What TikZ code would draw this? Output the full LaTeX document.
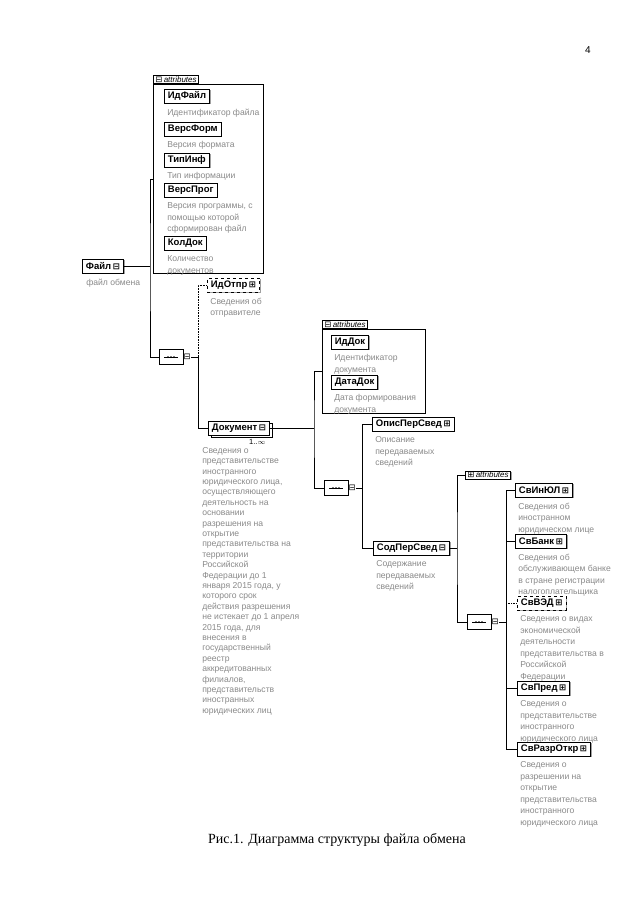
\documentclass[tikz,border=0pt]{standalone}
\usepackage{fontspec}
\setmainfont{Liberation Serif}
\setsansfont{Liberation Sans}
\newfontfamily\symf{DejaVu Sans}
\usepackage{tikz}
\usetikzlibrary{positioning,shapes.misc,shadows}
\definecolor{desccol}{HTML}{8A8A8A}
\definecolor{shadcol}{HTML}{A0A0A0}
\newcommand{\mkplus}{{\upshape\symf\fontsize{8.5}{8.5}\selectfont ⊞}}
\newcommand{\mkminus}{{\upshape\symf\fontsize{8.5}{8.5}\selectfont ⊟}}
\newcommand{\seqdots}[1]{%
  \draw ([xshift=-7pt]#1.center) -- ([xshift=7pt]#1.center);
  \foreach \dx in {-3,0,3} \fill ([xshift=\dx pt]#1.center) circle (1pt);}

\begin{document}
\begin{tikzpicture}[x=1pt,y=-1pt,line width=0.6pt,
  elbase/.style={draw,line width=0.8pt,fill=white,anchor=west,
                 font=\sffamily\bfseries\fontsize{9.5}{11}\selectfont,
                 minimum height=14pt,inner xsep=3.5pt,inner ysep=1pt},
  elem/.style={elbase,drop shadow={shadow xshift=1.2pt,shadow yshift=-1.2pt,
               fill=shadcol,opacity=1}},
  optel/.style={elem,dashed},
  multel/.style={elbase,copy shadow={shadow xshift=2.5pt,shadow yshift=-2.5pt}},
  desc/.style={font=\sffamily\fontsize{8.6}{11.5}\selectfont,text=desccol,
               align=left,inner sep=0pt},
  attrtab/.style={draw,fill=white,anchor=south west,
                  font=\sffamily\itshape\fontsize{8}{9}\selectfont,
                  inner xsep=2pt,inner ysep=1pt},
  attrbox/.style={draw,line width=0.7pt,anchor=north west},
  seq/.style={draw,fill=white,chamfered rectangle,chamfered rectangle xsep=3pt,
              minimum width=24pt,minimum height=15pt,inner sep=0pt,line width=0.7pt},
  mk/.style={inner sep=0pt,anchor=west},
  con/.style={line width=0.6pt},
  opcon/.style={con,densely dotted},
]
\useasboundingbox[fill=white] (0,0) rectangle (640,905);

\node[font=\sffamily\fontsize{10}{12}\selectfont] (pgnum) at (588,50) {4};

% root element and its attributes
\node[elem] (fajl) at (82,266) {Файл\,\mkminus};
\node[desc,below right=5pt and 4pt of fajl.south west] (fajld) {файл обмена};

\node[attrbox,minimum width=110pt,minimum height=189pt] (attrs1) at (153,84) {};
\node[attrtab] (attrs1t) at (attrs1.north west) {\mkminus\,attributes};

\node[elem] (idfajl) at (164,96) {ИдФайл};
\node[desc,below right=5pt and 3pt of idfajl.south west] (idfajld) {Идентификатор файла};
\node[elem] (versform) at (164,129) {ВерсФорм};
\node[desc,below right=5pt and 3pt of versform.south west] (versformd) {Версия формата};
\node[elem] (tipinf) at (164,160) {ТипИнф};
\node[desc,below right=5pt and 3pt of tipinf.south west] (tipinfd) {Тип информации};
\node[elem] (versprog) at (164,190) {ВерсПрог};
\node[desc,below right=5pt and 3pt of versprog.south west] (versprogd)
  {Версия программы, с\\помощью которой\\сформирован файл};
\node[elem] (koldok) at (164,243) {КолДок};
\node[desc,below right=5pt and 3pt of koldok.south west] (koldokd) {Количество\\документов};

\node[seq] (seq1) at (171,357) {};
\seqdots{seq1}
\node[mk] (seq1m) at (seq1.east) {\mkminus};

\coordinate (b1) at (150,266);
\draw[con] (fajl.east) -- (b1);
\draw[con] (attrs1.west) -| (b1) |- (seq1.west);

% sender and document
\node[optel] (idotpr) at (207,285) {ИдОтпр\,\mkplus};
\node[desc,below right=5pt and 3pt of idotpr.south west] (idotprd) {Сведения об\\отправителе};

\node[multel] (dok) at (208,428) {Документ\,\mkminus};
\node[font=\sffamily\fontsize{7.5}{8}\selectfont,anchor=north east,inner sep=0pt]
  (dokmul) at ([xshift=-4pt,yshift=-4pt]dok.south east) {1..$\infty$};
\node[desc,font=\sffamily\fontsize{8.6}{10.4}\selectfont,anchor=north west] (dokd) at (202,447)
  {Сведения о\\представительстве\\иностранного\\юридического лица,\\осуществляющего\\деятельность на\\основании\\разрешения на\\открытие\\представительства на\\территории\\Российской\\Федерации до 1\\января 2015 года, у\\которого срок\\действия разрешения\\не истекает до 1 апреля\\2015 года, для\\внесения в\\государственный\\реестр\\аккредитованных\\филиалов,\\представительств\\иностранных\\юридических лиц};

\coordinate (b2) at (198,357);
\draw[con] (seq1m.east) -- (b2);
\draw[opcon] (b2) |- (idotpr.west);
\draw[con] (b2) |- (dok.west);

% attributes of the document
\node[attrbox,minimum width=103pt,minimum height=84pt] (attrs2) at (322,329) {};
\node[attrtab] (attrs2t) at (attrs2.north west) {\mkminus\,attributes};
\node[elem] (iddok) at (331,342) {ИдДок};
\node[desc,below right=5pt and 3pt of iddok.south west] (iddokd) {Идентификатор\\документа};
\node[elem] (datadok) at (331,382) {ДатаДок};
\node[desc,below right=5pt and 3pt of datadok.south west] (datadokd) {Дата формирования\\документа};

\node[seq] (seq2) at (336,488) {};
\seqdots{seq2}
\node[mk] (seq2m) at (seq2.east) {\mkminus};

\coordinate (b3) at (314,428);
\draw[con] (dok.east) -- (b3);
\draw[con] (attrs2.west) -| (b3) |- (seq2.west);

\node[elem] (opis) at (372,424) {ОписПерСвед\,\mkplus};
\node[desc,below right=5pt and 3pt of opis.south west] (opisd) {Описание\\передаваемых\\сведений};
\node[elem] (sod) at (373,548) {СодПерСвед\,\mkminus};
\node[desc,below right=5pt and 3pt of sod.south west] (sodd) {Содержание\\передаваемых\\сведений};

\coordinate (b4) at (362,488);
\draw[con] (seq2m.east) -- (b4);
\draw[con] (b4) |- (opis.west);
\draw[con] (b4) |- (sod.west);

% content of the transferred data
\node[attrtab,anchor=west,drop shadow={shadow xshift=1.2pt,shadow yshift=-1.2pt,
      fill=shadcol,opacity=1}] (attrs3) at (465,475) {\mkplus\,attributes};

\node[seq] (seq3) at (479,622) {};
\seqdots{seq3}
\node[mk] (seq3m) at (seq3.east) {\mkminus};

\coordinate (b5) at (457,548);
\draw[con] (sod.east) -- (b5);
\draw[con] (attrs3.west) -| (b5) |- (seq3.west);

\node[elem] (svinyul) at (515,490) {СвИнЮЛ\,\mkplus};
\node[desc,below right=5pt and 3pt of svinyul.south west] (svinyuld)
  {Сведения об\\иностранном\\юридическом лице};
\node[elem] (svbank) at (515,541) {СвБанк\,\mkplus};
\node[desc,below right=5pt and 3pt of svbank.south west] (svbankd)
  {Сведения об\\обслуживающем банке\\в стране регистрации\\налогоплательщика};
\node[optel] (svved) at (517,603) {СвВЭД\,\mkplus};
\node[desc,below right=5pt and 3pt of svved.south west] (svvedd)
  {Сведения о видах\\экономической\\деятельности\\представительства в\\Российской\\Федерации};
\node[elem] (svpred) at (517,688) {СвПред\,\mkplus};
\node[desc,below right=5pt and 3pt of svpred.south west] (svpredd)
  {Сведения о\\представительстве\\иностранного\\юридического лица};
\node[elem] (svrazr) at (517,749) {СвРазрОткр\,\mkplus};
\node[desc,below right=5pt and 3pt of svrazr.south west] (svrazrd)
  {Сведения о\\разрешении на\\открытие\\представительства\\иностранного\\юридического лица};

\coordinate (b6) at (506,622);
\draw[con] (seq3m.east) -- (b6);
\draw[con] (b6) |- (svinyul.west);
\draw[con] (b6) |- (svbank.west);
\draw[opcon] (b6) |- (svved.west);
\draw[con] (b6) |- (svpred.west);
\draw[con] (b6) |- (svrazr.west);

\node[font=\rmfamily\fontsize{14}{16}\selectfont] (capt) at (337,840)
  {Рис.1. Диаграмма структуры файла обмена};
\end{tikzpicture}
\end{document}
